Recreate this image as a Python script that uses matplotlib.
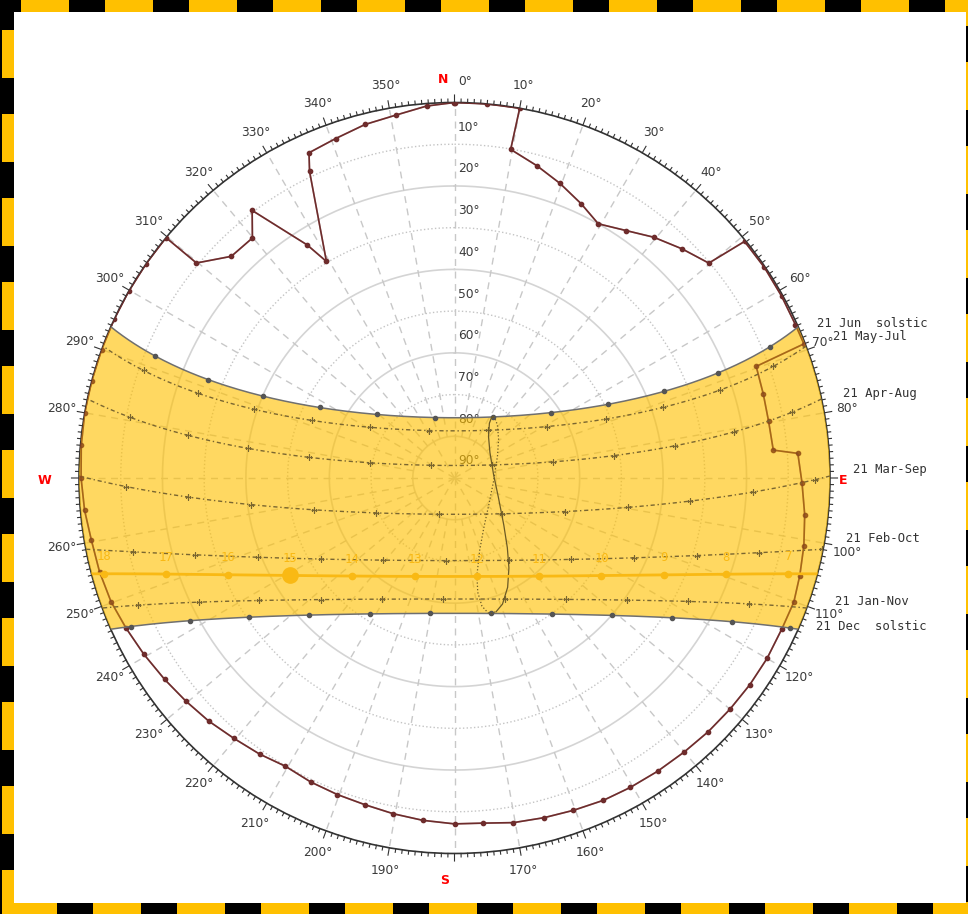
import numpy as np
import matplotlib
matplotlib.use("Agg")
import matplotlib.pyplot as plt
from matplotlib.patches import Rectangle

# site / clock
latitude = 9.0
clock_offset_min = -38.0      # longitude correction to the zone meridian (min)

# monthly sun paths: label, declination (deg), equation of time (min)
path_labels = ["21 Jun  solstic", "21 May-Jul", "21 Apr-Aug", "21 Mar-Sep",
               "21 Feb-Oct", "21 Jan-Nov", "21 Dec  solstic"]
path_decl = [23.44, 20.3, 12.0, 0.3, -10.8, -20.0, -23.44]
path_eot = [-1.7, 3.5, 1.2, -7.4, -13.8, -11.1, 1.9]
clock_hours = list(range(5, 20))

# today
today_decl = -14.6
today_eot = 16.4
today_hours = [7, 8, 9, 10, 11, 12, 13, 14, 15, 16, 17, 18]
sun_now = 15.0

# analemma at 12:00 (1st / 15th of each month, plus solstices)
ana_decl = [-23.0, -21.2, -17.2, -12.6, -7.8, -2.4, 4.3, 9.7, 15.0, 18.8, 22.0, 23.3, 23.44,
            23.1, 21.5, 18.1, 14.2, 8.4, 3.1, -3.0, -8.4, -14.3, -18.4, -21.7, -23.3, -23.44, -23.0]
ana_eot = [-3.2, -9.1, -13.5, -14.2, -12.4, -9.0, -4.1, 0.0, 2.9, 3.7, 2.2, -0.3, -1.7,
           -3.7, -5.9, -6.3, -4.5, -0.1, 4.6, 10.1, 14.0, 16.4, 15.4, 11.0, 4.8, 1.9, -3.2]

# horizon profile (azimuth, elevation)
horizon_az = [0, 5, 10, 9.7, 14.8, 19.7, 24.8, 29.5, 34.8, 39.6, 44.8, 49.8, 50.8, 55.8, 60.9, 65.8,
              69.0, 69.7, 74.8, 79.8, 85.0, 85.9, 90.8, 96.0, 101.0, 105.8, 110.1, 114.7, 120, 125,
              130, 135, 140, 145.3, 150.4, 155.2, 160.3, 165.2, 170.3, 175.3, 180, 185.3, 190.3,
              195.3, 200.3, 205.3, 210.4, 215.2, 220.3, 225.3, 230.3, 235.2, 240.4, 245.4, 250.2,
              255.2, 260.3, 265, 270, 275, 280, 285, 290, 295, 299.8, 304.8, 309.8, 309.8, 314.8,
              319.9, 322.9, 327.7, 329.4, 334.7, 335.9, 340.7, 345.8, 350.8, 355.7, 360]
horizon_alt = [0, 0, 0, 10.1, 12.6, 15.0, 17.6, 20.0, 17.8, 15.1, 12.6, 10.2, 0.3, 0.2, 0.3, 0.4,
               0.3, 12.9, 13.3, 13.5, 13.3, 7.5, 6.7, 5.6, 4.7, 4.0, 3.4, 3.6, 3.5, 3.6,
               3.8, 4.0, 4.3, 4.5, 4.7, 4.9, 5.4, 5.8, 6.2, 7.0, 7.1, 7.6, 8.2,
               8.8, 9.1, 9.4, 9.9, 9.0, 8.2, 7.15, 6.3, 5.4, 4.4, 3.45, 2.5,
               2.0, 1.7, 1.0, 0.5, 0.2, 0, 0, 0, 0, 0, 0, 0, 9.5, 14.6,
               14.8, 9.6, 23.9, 29.7, 8.7, 4.6, 3.8, 2.6, 1.9, 0.6, 0]

BAND = '#ffc000'
TODAY = '#f9b914'
LINE = '#7a6630'
TXT = '#3a3a3a'
HOR = '#6e2c2c'
PX = 90 / 375.5      # radial data units per pixel

# label nudges (pixels) next to the sunrise end of each path
path_label_off = [(19, 3), (27, 10), (21, 5), (23, 7), (23, 11), (28, 7), (18, 3)]
az_label_off = {0: (10.5, 21), 70: (15, 7), 100: (22.6, -9.5), 110: (21.6, -8)}


def sun_pos(decl, ha):
    """azimuth (deg from N, clockwise) and altitude for declination / hour angle"""
    lat = np.radians(latitude)
    d = np.radians(decl)
    h = np.radians(ha)
    e = -np.cos(d) * np.sin(h)
    n = np.cos(lat) * np.sin(d) - np.sin(lat) * np.cos(d) * np.cos(h)
    u = np.sin(lat) * np.sin(d) + np.cos(lat) * np.cos(d) * np.cos(h)
    return np.degrees(np.arctan2(e, n)), np.degrees(np.arcsin(np.clip(u, -1, 1)))


def day_curve(decl, n=300):
    h0 = np.degrees(np.arccos(-np.tan(np.radians(latitude)) * np.tan(np.radians(decl))))
    az, alt = sun_pos(decl, np.linspace(-h0, h0, n))
    return np.unwrap(np.radians(az)), 90 - np.clip(alt, 0, None)


def hour_marks(decl, eot, hours):
    ha = 15 * (np.asarray(hours, float) - 12 + (clock_offset_min + eot) / 60)
    az, alt = sun_pos(decl, ha)
    keep = alt > 0
    return np.radians(az[keep]), 90 - alt[keep], np.asarray(hours)[keep]


fig = plt.figure(figsize=(9.68, 9.14), dpi=100)
fig.patch.set_facecolor('black')

# dashed frame
frame = fig.add_axes([0, 0, 1, 1])
frame.set_xlim(0, 968)
frame.set_ylim(914, 0)
frame.axis('off')
frame.add_patch(Rectangle((14, 12), 952, 891, facecolor='white', edgecolor='none'))
for x0 in range(21, 968, 84):
    frame.add_patch(Rectangle((x0, 0), 48, 12, facecolor=BAND, edgecolor='none'))
for x0 in range(9, 968, 84):
    frame.add_patch(Rectangle((x0, 903), 48, 11, facecolor=BAND, edgecolor='none'))
for y0 in range(30, 914, 84):
    frame.add_patch(Rectangle((2, y0), 12, 48, facecolor=BAND, edgecolor='none'))
for y0 in range(-22, 914, 84):
    frame.add_patch(Rectangle((966, y0), 2, 48, facecolor=BAND, edgecolor='none'))

ax = fig.add_axes([79 / 968, 60.5 / 914, 751 / 968, 751 / 914], projection='polar')
ax.set_theta_zero_location('N')
ax.set_theta_direction(-1)
ax.set_ylim(0, 90)
ax.set_yticks([])
ax.set_xticks([])
ax.grid(False)
ax.spines['polar'].set_color('#333333')
ax.spines['polar'].set_linewidth(1.2)

# compass ticks outside the rim: every degree, longer every ten
deg = np.arange(360)
tick_len = np.where(deg % 10 == 0, 7.5, 3.5) * PX
tt = np.repeat(np.radians(deg), 3)
tr = np.column_stack([np.full(360, 90.0), 90 + tick_len, np.full(360, np.nan)]).ravel()
ax.plot(tt, tr, color='#333333', lw=0.8, clip_on=False, zorder=3)

# altitude rings and azimuth spokes
ring = np.linspace(0, 2 * np.pi, 361)
for a in range(10, 90, 10):
    if a % 20 == 0:
        ax.plot(ring, np.full_like(ring, 90 - a), color='#d4d4d4', lw=1.2, zorder=1)
    else:
        ax.plot(ring, np.full_like(ring, 90 - a), color='#c4c4c4', lw=1, ls=':', zorder=1)
for az in range(0, 360, 10):
    r0 = 0 if az % 30 == 0 else 10
    ax.plot([np.radians(az)] * 2, [r0, 90], color='#c8c8c8', lw=1, ls=(0, (5, 4)), zorder=1)

for a in range(10, 100, 10):
    ax.annotate(f"{a}°", xy=(0, 90 - a), xytext=(3.5, 17), textcoords='offset pixels',
                ha='left', va='center', fontsize=8.8, color=TXT, zorder=2)

# azimuth labels
for az in range(0, 360, 10):
    if az in (90, 180, 270):
        continue
    t = np.radians(az)
    off = az_label_off.get(az, (23 * np.sin(t), 23 * np.cos(t)))
    ax.annotate(f"{az}°", xy=(t, 90), xytext=off, textcoords='offset pixels',
                ha='center', va='center', fontsize=8.8, color=TXT, annotation_clip=False)
for lab, az, off in [('N', 0, (-11.5, 23)), ('E', 90, (13, -2)), ('S', 180, (-9.5, -27)),
                     ('W', 270, (-34, -2))]:
    ax.annotate(lab, xy=(np.radians(az), 90), xytext=off, textcoords='offset pixels',
                ha='center', va='center', fontsize=9, fontweight='bold', color='red',
                annotation_clip=False)

# horizon profile (a faint copy on top keeps it readable inside the band)
hz_t, hz_r = np.radians(horizon_az), 90 - np.array(horizon_alt)
ax.plot(hz_t, hz_r, color=HOR, lw=1.2, marker='o', ms=3, zorder=3)
ax.plot(hz_t, hz_r, color=HOR, lw=1.2, marker='o', ms=3, alpha=0.35, zorder=4.5)

# yellow band between solstices
t_jun, r_jun = day_curve(path_decl[0])
t_dec, r_dec = day_curve(path_decl[-1])
west = np.radians(np.linspace(np.degrees(t_jun[-1]) % 360, np.degrees(t_dec[-1]) % 360, 60))
east = np.radians(np.linspace(np.degrees(t_dec[0]) % 360, np.degrees(t_jun[0]) % 360, 60))
band_t = np.unwrap(np.concatenate([t_jun, west, t_dec[::-1], east]))
band_r = np.concatenate([r_jun, np.full(60, 90.0), r_dec[::-1], np.full(60, 90.0)])
ax.fill(band_t, band_r, facecolor=BAND, alpha=0.62, edgecolor='none', zorder=4)

# monthly paths
for i, (lab, dec, eot) in enumerate(zip(path_labels, path_decl, path_eot)):
    t, r = day_curve(dec)
    mt, mr, _ = hour_marks(dec, eot, clock_hours)
    if i in (0, len(path_decl) - 1):
        ax.plot(t, r, color='#6f6f6f', lw=1.1, zorder=5)
        ax.plot(mt, mr, ls='none', marker='o', ms=3, color='#555555', zorder=5)
    else:
        ax.plot(t, r, color=LINE, lw=1, ls=(0, (3, 2, 1, 2)), zorder=5)
        ax.plot(mt, mr, ls='none', marker='+', ms=5, mew=0.9, color=LINE, zorder=5)
    ax.annotate(lab, xy=(t[0], 90), xytext=path_label_off[i], textcoords='offset pixels',
                ha='left', va='center', fontsize=8.8, family='DejaVu Sans Mono',
                color='#333333', annotation_clip=False)

# analemma at 12:00, first half solid, second half dotted
ana_az, ana_alt = sun_pos(np.array(ana_decl), 15 * (clock_offset_min + np.array(ana_eot)) / 60)
ana_t, ana_r = np.unwrap(np.radians(ana_az)), 90 - ana_alt
ax.plot(ana_t[:13], ana_r[:13], color='#6c5a24', lw=0.9, zorder=5)
ax.plot(ana_t[12:], ana_r[12:], color='#6c5a24', lw=0.9, ls=':', zorder=5)

# today's path with clock hours and current sun position
t, r = day_curve(today_decl)
ax.plot(t, r, color=TODAY, lw=2, zorder=6)
ht, hr, hh = hour_marks(today_decl, today_eot, today_hours)
ax.plot(ht, hr, ls='none', marker='o', ms=4.5, color=TODAY, zorder=6)
for tt_, rr_, h in zip(ht, hr, hh):
    ax.annotate(str(h), xy=(tt_, rr_), xytext=(0, 17), textcoords='offset pixels', ha='center',
                va='center', fontsize=8.8, family='DejaVu Sans Mono', color=TODAY, zorder=6)
st, sr, _ = hour_marks(today_decl, today_eot, [sun_now])
ax.plot(st, sr, ls='none', marker='o', ms=11, color=TODAY, zorder=7)

fig.savefig('out.png', dpi=100, facecolor=fig.get_facecolor())
